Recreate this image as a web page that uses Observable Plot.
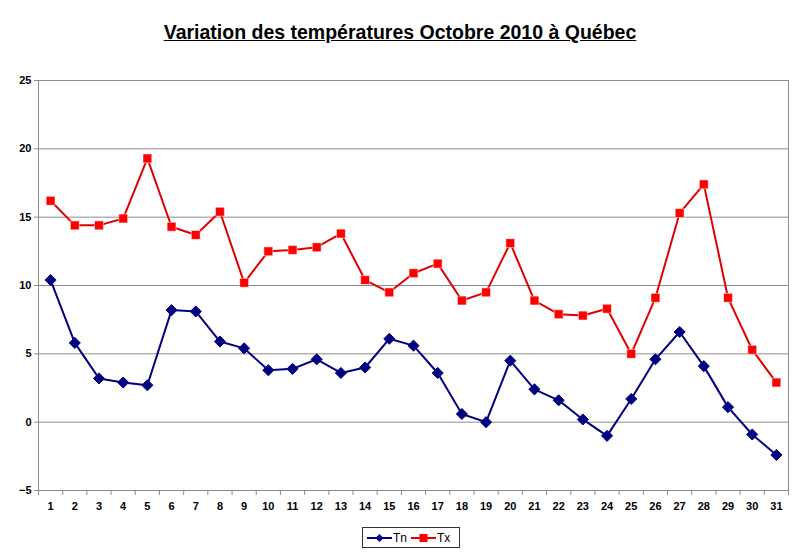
<!DOCTYPE html>
<html>
<head>
<meta charset="utf-8">
<script src="https://cdn.jsdelivr.net/npm/d3@7"></script>
<script src="https://cdn.jsdelivr.net/npm/@observablehq/plot@0.6"></script>
<style>
  html, body { margin: 0; padding: 0; background: #fff; }
  body { width: 800px; height: 554px; overflow: hidden; font-family: "Liberation Sans", Arial, sans-serif; }
  #title { height: 60px; text-align: center; font-weight: bold; font-size: 19.5px; text-decoration: underline; line-height: 22px; padding-top: 21px; box-sizing: border-box; color: #000; }
  #chart svg { display: block; }
  #legend { position: absolute; left: 362px; top: 527px; width: 98px; height: 21px; border: 1px solid #333; box-sizing: border-box; display: flex; align-items: center; font-size: 12px; font-weight: normal; color: #000; }
  #legend span { display: inline-flex; align-items: center; }
  #legend svg { margin-right: 1px; }
</style>
</head>
<body>
<div id="title">Variation des températures Octobre 2010 à Québec</div>
<div id="chart"></div>
<div id="legend">
  <span style="margin-left:4px"><svg width="25" height="10"><line x1="0" y1="5" x2="25" y2="5" stroke="#000080" stroke-width="2"/><path d="M12.5,1L16.5,5L12.5,9L8.5,5Z" fill="#000080"/></svg>Tn</span>
  <span style="margin-left:4px"><svg width="25" height="10"><line x1="0" y1="5" x2="25" y2="5" stroke="#e00000" stroke-width="2"/><rect x="8.5" y="1" width="8" height="8" fill="#ff0000"/></svg>Tx</span>
</div>
<script>
const days = d3.range(1, 32);
const tn = [10.4, 5.8, 3.2, 2.9, 2.7, 8.2, 8.1, 5.9, 5.4, 3.8, 3.9, 4.6, 3.6, 4.0, 6.1, 5.6, 3.6, 0.6, 0.0, 4.5, 2.4, 1.6, 0.2, -1.0, 1.7, 4.6, 6.6, 4.1, 1.1, -0.9, -2.4];
const tx = [16.2, 14.4, 14.4, 14.9, 19.3, 14.3, 13.7, 15.4, 10.2, 12.5, 12.6, 12.8, 13.8, 10.4, 9.5, 10.9, 11.6, 8.9, 9.5, 13.1, 8.9, 7.9, 7.8, 8.3, 5.0, 9.1, 15.3, 17.4, 9.1, 5.3, 2.9];
const yTicks = [-5, 0, 5, 10, 15, 20, 25];
const bandEdges = d3.range(0.5, 32, 1);

const tnData = days.map((d, i) => ({day: d, v: tn[i]}));
const txData = days.map((d, i) => ({day: d, v: tx[i]}));

const chart = Plot.plot({
  width: 800,
  height: 460,
  marginLeft: 38,
  marginRight: 12,
  marginTop: 20,
  marginBottom: 30,
  style: {fontFamily: "'Liberation Sans', Arial, sans-serif", fontSize: "11px", fontWeight: "bold", color: "#000"},
  x: {type: "linear", domain: [0.5, 31.5]},
  y: {domain: [-5, 25]},
  marks: [
    Plot.gridY(yTicks, {stroke: "#8c8c8c", strokeOpacity: 1}),
    Plot.ruleX([0.5, 31.5], {stroke: "#8c8c8c"}),
    Plot.ruleY([-5], {stroke: "#8c8c8c"}),
    Plot.axisY(yTicks, {tickSize: 4, tickPadding: 3, stroke: "#8c8c8c", label: null}),
    Plot.axisX(bandEdges, {tickSize: 5, tickFormat: () => "", stroke: "#8c8c8c", label: null}),
    Plot.axisX(days, {tickSize: 0, tickPadding: 12, label: null}),
    Plot.line(txData, {x: "day", y: "v", stroke: "#e00000", strokeWidth: 2}),
    Plot.dot(txData, {x: "day", y: "v", symbol: "square", r: 5, fill: "#ff0000", stroke: "#fff", strokeWidth: 0.5}),
    Plot.line(tnData, {x: "day", y: "v", stroke: "#000080", strokeWidth: 2}),
    Plot.dot(tnData, {x: "day", y: "v", symbol: "diamond2", r: 5, fill: "#000080", stroke: "#000080", strokeWidth: 1})
  ]
});
document.getElementById("chart").appendChild(chart);
</script>
</body>
</html>
